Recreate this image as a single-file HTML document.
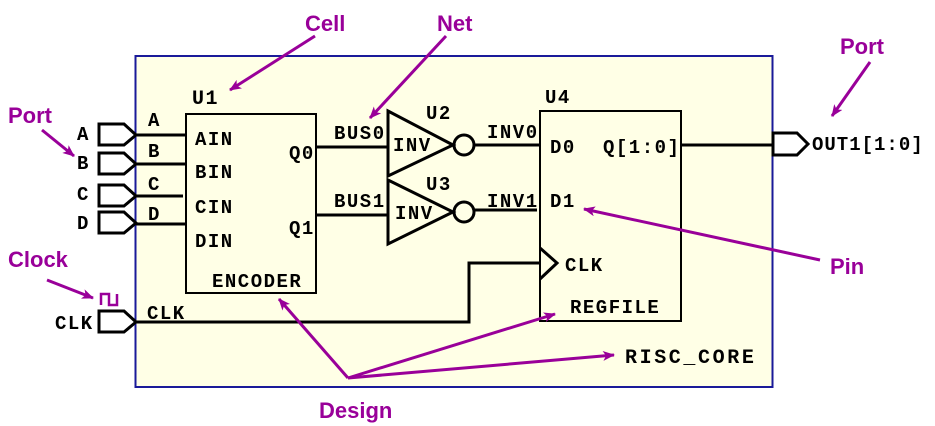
<!DOCTYPE html>
<html><head><meta charset="utf-8"><style>
html,body{margin:0;padding:0;background:#fff;}
svg{display:block}
.m{font-family:"Liberation Mono",monospace;font-weight:bold;font-size:19px;letter-spacing:1.5px;fill:#000}
.p{font-family:"Liberation Sans",sans-serif;font-weight:bold;font-size:22px;fill:#990099}
</style></head><body>
<svg width="935" height="426" viewBox="0 0 935 426" xmlns="http://www.w3.org/2000/svg">
<defs>
<marker id="ah" viewBox="0 0 12 10" refX="11" refY="5" markerWidth="12" markerHeight="10" markerUnits="userSpaceOnUse" orient="auto">
<path d="M0,0 L12,5 L0,10 L3,5 Z" fill="#990099"/></marker>
</defs>
<rect x="135.5" y="56" width="637" height="331" fill="#ffffe6" stroke="#1a1a99" stroke-width="2"/>
<g fill="none" stroke="#000" stroke-width="3">
<path d="M99,124 H124 L136,135 L124,145 H99 Z"/>
<path d="M99,153 H124 L136,164 L124,174 H99 Z"/>
<path d="M99,185 H124 L136,196 L124,206 H99 Z"/>
<path d="M99,212 H124 L136,223 L124,233 H99 Z"/>
<path d="M99,311 H124 L136,322 L124,332 H99 Z"/>
<path d="M773,133 H797 L808,144 L797,155 H773 Z"/>
<path d="M136,135 H185 M136,164 H185 M136,196 H183 M136,224 H185"/>
<path d="M136,322 H469 V263 H540"/>
<path d="M316,147 H388 M316,215 H388"/>
<path d="M388,111 L453,145 L388,176 Z"/>
<path d="M388,180 L453,212 L388,244 Z"/>
<circle cx="464" cy="145" r="10"/><circle cx="464" cy="212" r="10"/>
<path d="M474,145 H541 M474,210 H537"/>
<path d="M540,248 L557,263 L540,279"/>
<path d="M681,145 H773"/>
</g>
<rect x="186" y="114" width="130" height="179" fill="none" stroke="#000" stroke-width="2"/>
<rect x="540" y="111" width="141" height="210" fill="none" stroke="#000" stroke-width="2"/>
<text class="m" x="77" y="140">A</text><text class="m" x="77" y="169">B</text>
<text class="m" x="77" y="200">C</text><text class="m" x="77" y="229">D</text>
<text class="m" x="55" y="329">CLK</text>
<text class="m" x="148" y="126">A</text><text class="m" x="148" y="157">B</text>
<text class="m" x="148" y="190">C</text><text class="m" x="148" y="220">D</text>
<text class="m" x="147" y="319">CLK</text>
<text class="m" x="192" y="104" style="font-size:20px">U1</text>
<text class="m" x="195" y="145">AIN</text><text class="m" x="195" y="178">BIN</text>
<text class="m" x="195" y="213">CIN</text><text class="m" x="195" y="247">DIN</text>
<text class="m" x="289" y="159">Q0</text><text class="m" x="289" y="234">Q1</text>
<text class="m" x="212" y="287">ENCODER</text>
<text class="m" x="334" y="139">BUS0</text><text class="m" x="334" y="207">BUS1</text>
<text class="m" x="393" y="151">INV</text><text class="m" x="395" y="219">INV</text>
<text class="m" x="426" y="119">U2</text><text class="m" x="426" y="190">U3</text>
<text class="m" x="487" y="138">INV0</text><text class="m" x="487" y="207">INV1</text>
<text class="m" x="545" y="103">U4</text>
<text class="m" x="550" y="153">D0</text><text class="m" x="550" y="207">D1</text>
<text class="m" x="603" y="153">Q[1:0]</text>
<text class="m" x="565" y="271">CLK</text>
<text class="m" x="570" y="313">REGFILE</text>
<text class="m" x="625" y="363" style="font-size:20px;letter-spacing:2.6px">RISC_CORE</text>
<text class="m" x="812" y="150" style="letter-spacing:1px">OUT1[1:0]</text>
<path d="M101,305 V294 H109 V305 H117 V294" fill="none" stroke="#990099" stroke-width="2.5"/>
<g stroke="#990099" stroke-width="3" fill="none" marker-end="url(#ah)">
<line x1="315" y1="36" x2="230" y2="90"/>
<line x1="446" y1="36" x2="370" y2="118"/>
<line x1="870" y1="62" x2="832" y2="116"/>
<line x1="42" y1="130" x2="74" y2="156"/>
<line x1="47" y1="280" x2="93" y2="298"/>
<line x1="820" y1="260" x2="584" y2="209"/>
<line x1="348" y1="378" x2="279" y2="299"/>
<line x1="348" y1="378" x2="555" y2="314"/>
<line x1="348" y1="378" x2="614" y2="355"/>
</g>
<text class="p" x="305" y="31">Cell</text>
<text class="p" x="437" y="31">Net</text>
<text class="p" x="840" y="54">Port</text>
<text class="p" x="8" y="123">Port</text>
<text class="p" x="8" y="267">Clock</text>
<text class="p" x="830" y="274">Pin</text>
<text class="p" x="319" y="418">Design</text>
</svg>
</body></html>
